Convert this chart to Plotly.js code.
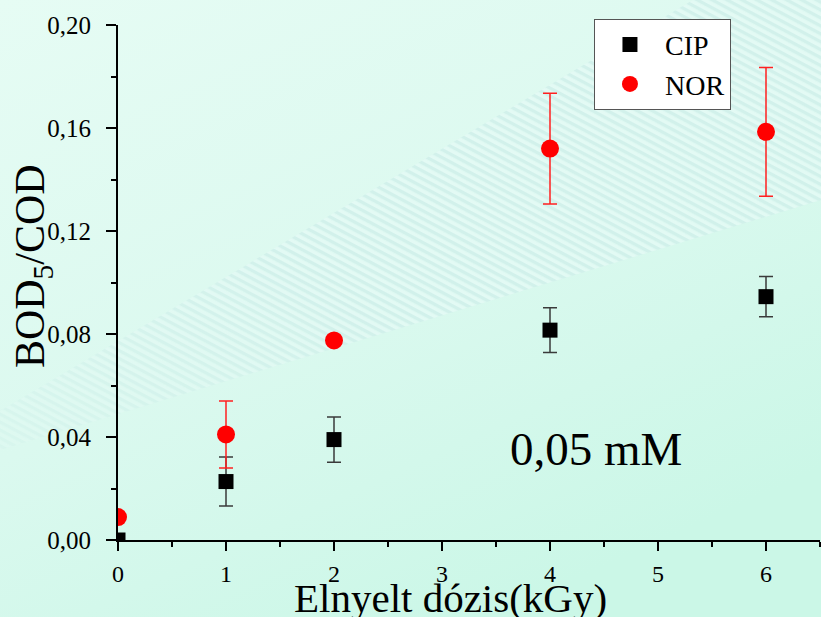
<!DOCTYPE html>
<html><head><meta charset="utf-8">
<script src="https://cdn.plot.ly/plotly-3.0.1.min.js"></script>
<style>
html,body{margin:0;padding:0;}
body{width:821px;height:617px;overflow:hidden;position:relative;background:#d6f8ec;}
#bg{position:absolute;left:0;top:0;width:821px;height:617px;}
#chart{position:absolute;left:0;top:0;width:821px;height:617px;}
</style></head>
<body>
<svg id="bg" width="821" height="617" xmlns="http://www.w3.org/2000/svg">
  <defs>
    <linearGradient id="g" x1="0" y1="0" x2="0.6" y2="1">
      <stop offset="0" stop-color="#e6fcf4"/>
      <stop offset="0.55" stop-color="#dbf9ef"/>
      <stop offset="1" stop-color="#cbf7e7"/>
    </linearGradient>
    <pattern id="st" width="7" height="7" patternUnits="userSpaceOnUse" patternTransform="rotate(28)">
      <rect width="7" height="3.5" fill="#d0efea"/>
      <rect y="3.5" width="7" height="3.5" fill="#e3f9f4"/>
    </pattern>
    <linearGradient id="fade" x1="0" y1="1" x2="1" y2="0">
      <stop offset="0" stop-color="#fff" stop-opacity="0.3"/>
      <stop offset="0.4" stop-color="#fff" stop-opacity="0.9"/>
      <stop offset="1" stop-color="#fff" stop-opacity="0.9"/>
    </linearGradient>
    <mask id="m"><polygon points="0,411 693,0 821,0 821,200 0,450" fill="url(#fade)"/></mask>
  </defs>
  <rect width="821" height="617" fill="url(#g)"/>
  <rect width="821" height="617" fill="url(#st)" mask="url(#m)"/>
</svg>
<div id="chart"></div>
<script>
const dose = [0, 1, 2, 4, 6];
const cipValues = [0.000, 0.0227, 0.0390, 0.0815, 0.0945];
const cipErrors = [0, 0.0095, 0.0088, 0.0087, 0.0078];
const norValues = [0.0089, 0.0410, 0.0775, 0.1520, 0.1585];
const norErrors = [0, 0.0130, 0, 0.0215, 0.0250];
const seriesNames = ['CIP', 'NOR'];
const xTicks = [0, 1, 2, 3, 4, 5, 6];
const yTicks = [0, 0.04, 0.08, 0.12, 0.16, 0.20];
const yTickText = ['0,00', '0,04', '0,08', '0,12', '0,16', '0,20'];
const xTitle = 'Elnyelt dózis(kGy)';
const yTitle = 'BOD<sub>5</sub>/COD';
const concLabel = '0,05 mM';

const font = 'Liberation Serif';

const traces = [
  {x: dose, y: cipValues, name: seriesNames[0], type: 'scatter', mode: 'markers',
   marker: {symbol: 'square', color: '#000', size: 15},
   error_y: {type: 'data', array: cipErrors, visible: true, color: '#3a3a3a', thickness: 1.5, width: 7}},
  {x: dose, y: norValues, name: seriesNames[1], type: 'scatter', mode: 'markers',
   marker: {symbol: 'circle', color: '#ff0000', size: 18},
   error_y: {type: 'data', array: norErrors, visible: true, color: '#ff2020', thickness: 1.5, width: 7}}
];

const layout = {
  width: 821, height: 617,
  paper_bgcolor: 'rgba(0,0,0,0)', plot_bgcolor: 'rgba(0,0,0,0)',
  margin: {l: 118, r: 1, t: 25, b: 77},
  font: {family: font, color: '#000'},
  showlegend: true,
  legend: {x: 0.678, xanchor: 'left', y: 1.012, yanchor: 'top', bgcolor: '#fff',
    bordercolor: '#555', borderwidth: 1, font: {family: font, size: 28},
    itemwidth: 60, tracegroupgap: 0},
  xaxis: {range: [0, 6.5], tickvals: xTicks, ticks: 'outside', ticklen: 9, tickwidth: 2, tickcolor: '#000',
    showline: true, linecolor: '#000', linewidth: 2, showgrid: false, zeroline: false,
    tickfont: {family: font, size: 24}, ticklabelstandoff: 2,
    minor: {dtick: 0.5, ticks: 'outside', ticklen: 5, tickwidth: 2, tickcolor: '#000'}},
  yaxis: {range: [0, 0.2], tickvals: yTicks, ticktext: yTickText, ticks: 'outside', ticklen: 10, tickwidth: 2, tickcolor: '#000',
    showline: true, linecolor: '#000', linewidth: 2, showgrid: false, zeroline: false,
    tickfont: {family: font, size: 25}, ticklabelstandoff: 10,
    minor: {dtick: 0.02, ticks: 'outside', ticklen: 5, tickwidth: 2, tickcolor: '#000'}},
  annotations: [
    {text: concLabel, x: 4.43, y: 0.0353, xref: 'x', yref: 'y', showarrow: false,
     font: {family: font, size: 47}, xanchor: 'center', yanchor: 'middle'},
    {text: xTitle, x: 0.474, y: -0.113, xref: 'paper', yref: 'paper', showarrow: false,
     font: {family: font, size: 41}, xanchor: 'center', yanchor: 'middle'},
    {text: yTitle, x: -0.121, y: 0.532, xref: 'paper', yref: 'paper', showarrow: false, textangle: -90,
     font: {family: font, size: 42}, xanchor: 'center', yanchor: 'middle'}
  ]
};

Plotly.newPlot('chart', traces, layout, {displayModeBar: false, staticPlot: true});
</script>
</body></html>
